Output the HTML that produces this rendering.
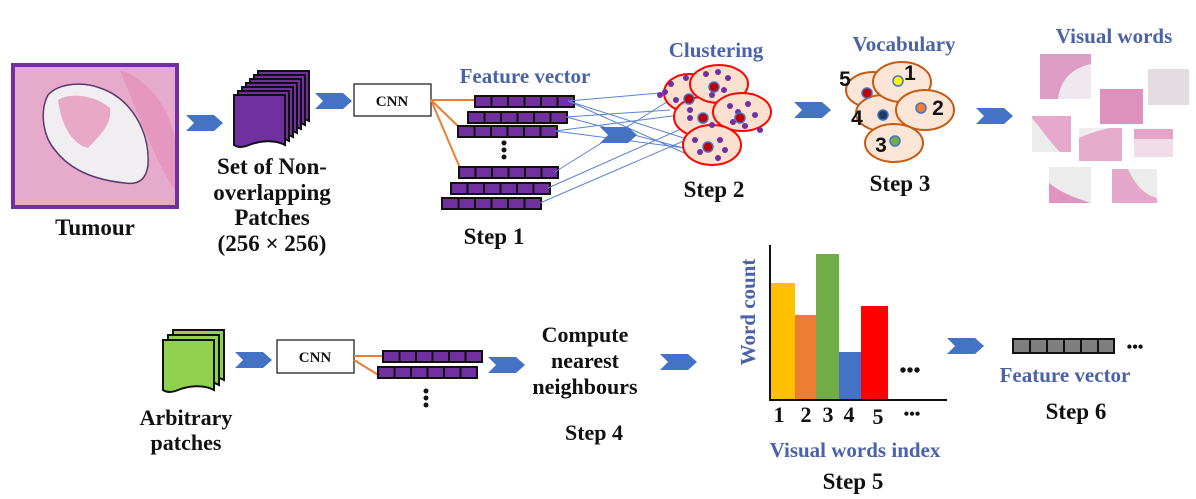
<!DOCTYPE html>
<html><head><meta charset="utf-8"><style>
html,body{margin:0;padding:0;background:#fff}
svg{display:block}
.t{font-family:"Liberation Serif",serif;font-weight:bold;fill:#111}
.b{font-family:"Liberation Serif",serif;font-weight:bold;fill:#4a62a8}
.n{font-family:"Liberation Sans",sans-serif;font-weight:bold;fill:#111}
</style></head><body>
<svg width="1196" height="499" viewBox="0 0 1196 499" xmlns="http://www.w3.org/2000/svg">
<defs>
<g id="bar"><rect width="101" height="13" fill="#111"/>
<rect x="2" y="2" width="14.5" height="9" fill="#7030a0"/><rect x="18.5" y="2" width="14.5" height="9" fill="#7030a0"/><rect x="35" y="2" width="14.5" height="9" fill="#7030a0"/><rect x="51.5" y="2" width="14.5" height="9" fill="#7030a0"/><rect x="68" y="2" width="14.5" height="9" fill="#7030a0"/><rect x="84.5" y="2" width="14.5" height="9" fill="#7030a0"/></g>
<path id="chev" d="M0,0 H28 L37,8 L28,16 H0 L8,8 Z" fill="#4472c4"/>
<path id="pg" d="M0,0 H51 V50 C40,44 25,46 15,50 C8,53 3,52 0,50 Z"/>
</defs>

<!-- Tumour -->
<rect x="13" y="65" width="164" height="142" fill="#e6aacb" stroke="#7030a0" stroke-width="4"/>
<path d="M120,70 C150,80 170,110 175,140 L175,190 C160,170 140,120 120,70Z" fill="#e58fb8" opacity="0.7"/>
<path d="M48,95 C60,82 85,82 100,88 C130,98 150,130 148,165 C146,180 138,185 125,183 C95,180 70,170 55,150 C42,135 40,110 48,95Z" fill="#f1eef2" stroke="#5a3a6a" stroke-width="1.5"/>
<path d="M58,100 C70,92 95,95 110,108 C112,125 100,135 88,148 C75,145 62,130 58,100Z" fill="#e9a9c6"/>
<text class="t" x="95" y="235" font-size="23" text-anchor="middle">Tumour</text>

<use href="#chev" x="186" y="115"/>

<!-- purple stack -->
<g fill="#7030a0" stroke="#111" stroke-width="2">
<use href="#pg" x="258" y="71"/><use href="#pg" x="254" y="75"/><use href="#pg" x="250" y="79"/><use href="#pg" x="246" y="83"/><use href="#pg" x="242" y="87"/><use href="#pg" x="238" y="91"/><use href="#pg" x="234" y="95"/>
</g>
<g class="t" font-size="23" text-anchor="middle">
<text x="272" y="174">Set of Non-</text><text x="272" y="200">overlapping</text><text x="272" y="225">Patches</text><text x="272" y="251">(256 × 256)</text>
</g>

<use href="#chev" x="315" y="93"/>
<rect x="354" y="84" width="77" height="32" fill="#fff" stroke="#111" stroke-width="1.2"/>
<text class="t" x="392" y="106" font-size="15" text-anchor="middle">CNN</text>
<g stroke="#ed7d31" stroke-width="2"><line x1="431" y1="100" x2="475" y2="100"/><line x1="431" y1="100" x2="460" y2="128"/><line x1="431" y1="100" x2="460" y2="168"/></g>
<text class="b" x="525" y="83" font-size="21" text-anchor="middle">Feature vector</text>
<use href="#bar" x="474" y="95"/><use href="#bar" x="467" y="111"/><use href="#bar" x="457" y="125"/>
<use href="#bar" x="458" y="166"/><use href="#bar" x="450" y="182"/><use href="#bar" x="441" y="197"/>
<g fill="#111"><circle cx="504" cy="143" r="2.5"/><circle cx="504" cy="150" r="2.5"/><circle cx="504" cy="157" r="2.5"/></g>
<text class="t" x="494" y="244" font-size="23" text-anchor="middle">Step 1</text>

<!-- blue lines -->
<g stroke="#5b83d0" stroke-width="1">
<line x1="568" y1="101" x2="660" y2="93"/><line x1="568" y1="101" x2="690" y2="140"/><line x1="568" y1="101" x2="700" y2="160"/>
<line x1="566" y1="117" x2="670" y2="110"/><line x1="566" y1="117" x2="710" y2="155"/>
<line x1="555" y1="131" x2="680" y2="115"/><line x1="555" y1="131" x2="700" y2="150"/>
<line x1="555" y1="172" x2="670" y2="100"/><line x1="548" y1="188" x2="690" y2="125"/><line x1="540" y1="203" x2="686" y2="140"/>
</g>
<use href="#chev" x="600" y="127"/>

<!-- clusters -->
<g fill="#fbe0d0" stroke="#ff0000" stroke-width="2">
<ellipse cx="689" cy="93" rx="25" ry="19"/><ellipse cx="703" cy="117" rx="29" ry="20"/><ellipse cx="719" cy="84" rx="29" ry="19"/><ellipse cx="742" cy="112" rx="29" ry="19"/><ellipse cx="712" cy="145" rx="29" ry="20"/>
</g>
<g fill="#7030a0">
<circle cx="665" cy="92" r="3"/><circle cx="671" cy="84" r="3"/><circle cx="686" cy="78" r="3"/><circle cx="676" cy="100" r="3"/><circle cx="660" cy="95" r="3"/><circle cx="706" cy="74" r="3"/><circle cx="718" cy="72" r="3"/><circle cx="728" cy="78" r="3"/><circle cx="712" cy="95" r="3"/><circle cx="724" cy="90" r="3"/><circle cx="730" cy="106" r="3"/><circle cx="748" cy="104" r="3"/><circle cx="755" cy="115" r="3"/><circle cx="733" cy="122" r="3"/><circle cx="745" cy="126" r="3"/><circle cx="760" cy="130" r="3"/><circle cx="690" cy="118" r="3"/><circle cx="712" cy="125" r="3"/><circle cx="695" cy="140" r="3"/><circle cx="720" cy="140" r="3"/><circle cx="725" cy="150" r="3"/><circle cx="700" cy="152" r="3"/><circle cx="718" cy="158" r="3"/><circle cx="690" cy="110" r="3"/><circle cx="738" cy="112" r="3"/>
</g>
<g fill="#c00000" stroke="#4472c4" stroke-width="1.5">
<circle cx="714" cy="87" r="5"/><circle cx="689" cy="99" r="5"/><circle cx="703" cy="118" r="5"/><circle cx="740" cy="118" r="5"/><circle cx="708" cy="147" r="5"/>
</g>
<text class="b" x="716" y="57" font-size="21" text-anchor="middle">Clustering</text>
<text class="t" x="714" y="197" font-size="23" text-anchor="middle">Step 2</text>

<use href="#chev" x="794" y="102"/>

<!-- vocabulary -->
<g fill="#fbe5d6" stroke="#c55a11" stroke-width="2">
<ellipse cx="873" cy="90" rx="27" ry="18"/><ellipse cx="883" cy="113" rx="27" ry="18"/><ellipse cx="902" cy="82" rx="29" ry="20"/><ellipse cx="925" cy="110" rx="29" ry="20"/><ellipse cx="894" cy="143" rx="29" ry="19"/>
</g>
<g stroke="#4472c4" stroke-width="1.5">
<circle cx="898" cy="81" r="5" fill="#ffff00"/><circle cx="867" cy="93" r="5" fill="#c00000"/><circle cx="921" cy="108" r="5" fill="#ed7d31"/><circle cx="883" cy="115" r="5" fill="#1f3864"/><circle cx="895" cy="141" r="5" fill="#70ad47"/>
</g>
<g class="n" font-size="21" text-anchor="middle">
<text x="845" y="86">5</text><text x="910" y="80">1</text><text x="938" y="115">2</text><text x="857" y="125">4</text><text x="881" y="152">3</text>
</g>
<text class="b" x="904" y="51" font-size="21" text-anchor="middle">Vocabulary</text>
<text class="t" x="900" y="191" font-size="23" text-anchor="middle">Step 3</text>

<use href="#chev" x="976" y="108"/>
<text class="b" x="1114" y="43" font-size="21" text-anchor="middle">Visual words</text>
<rect x="1040" y="54" width="51" height="45" fill="#dc9cc4"/><path d="M1058,99 C1060,80 1072,68 1091,64 V99Z" fill="#efe8ee" />
<rect x="1148" y="69" width="41" height="36" fill="#e3dde2"/>
<rect x="1100" y="89" width="43" height="35" fill="#dd92bd"/>
<rect x="1032" y="116" width="39" height="36" fill="#e6a8cb"/><path d="M1032,118 C1042,130 1050,142 1060,152 H1032Z" fill="#ececec"/>
<rect x="1079" y="128" width="43" height="33" fill="#e6aacb"/><path d="M1079,138 C1090,133 1100,130 1110,128 H1079Z" fill="#eee"/>
<rect x="1134" y="129" width="39" height="28" fill="#f0dde8"/><rect x="1134" y="129" width="39" height="10" fill="#e8a4c8"/>
<rect x="1049" y="167" width="42" height="36" fill="#ececec"/><path d="M1049,183 C1060,192 1075,198 1091,203 H1049Z" fill="#e095c0"/>
<rect x="1112" y="169" width="45" height="34" fill="#e5a8ca"/><path d="M1128,169 C1135,185 1145,195 1157,198 V169Z" fill="#ececec"/>

<!-- bottom row -->
<g fill="#92d050" stroke="#111" stroke-width="2">
<use href="#pg" x="173" y="330"/><use href="#pg" x="168" y="335"/><use href="#pg" x="163" y="340"/>
</g>
<text class="t" x="186" y="425" font-size="22" text-anchor="middle">Arbitrary</text>
<text class="t" x="186" y="450" font-size="22" text-anchor="middle">patches</text>
<use href="#chev" x="235" y="352"/>
<rect x="277" y="340" width="77" height="33" fill="#fff" stroke="#111" stroke-width="1.2"/>
<text class="t" x="315" y="362" font-size="15" text-anchor="middle">CNN</text>
<g stroke="#ed7d31" stroke-width="2"><line x1="354" y1="356" x2="383" y2="356"/><line x1="354" y1="360" x2="380" y2="376"/></g>
<use href="#bar" x="382" y="350"/><use href="#bar" x="377" y="366"/>
<g fill="#111"><circle cx="426" cy="391" r="2.5"/><circle cx="426" cy="398" r="2.5"/><circle cx="426" cy="405" r="2.5"/></g>
<use href="#chev" x="488" y="357"/>
<g class="t" font-size="22" text-anchor="middle">
<text x="585" y="342">Compute</text><text x="585" y="368">nearest</text><text x="585" y="394">neighbours</text><text x="594" y="440">Step 4</text>
</g>
<use href="#chev" x="660" y="354"/>

<!-- histogram -->
<rect x="771" y="283" width="24" height="117" fill="#ffc000"/>
<rect x="795" y="315" width="21" height="85" fill="#ed7d31"/>
<rect x="816" y="254" width="23" height="146" fill="#70ad47"/>
<rect x="839" y="352" width="22" height="48" fill="#4472c4"/>
<rect x="861" y="306" width="27" height="94" fill="#ff0000"/>
<g stroke="#111" stroke-width="2"><line x1="770" y1="245" x2="770" y2="401"/><line x1="769" y1="400" x2="947" y2="400"/></g>
<text class="t" x="910" y="377" font-size="20" text-anchor="middle">•••</text>
<g class="t" font-size="22" text-anchor="middle">
<text x="779" y="422">1</text><text x="806" y="422">2</text><text x="828" y="422">3</text><text x="849" y="422">4</text><text x="878" y="424">5</text><text x="912" y="419" font-size="16">•••</text>
</g>
<text class="b" x="0" y="0" font-size="21" text-anchor="middle" transform="translate(755,312) rotate(-90)">Word count</text>
<text class="b" x="855" y="457" font-size="21" text-anchor="middle">Visual words index</text>
<text class="t" x="853" y="489" font-size="23" text-anchor="middle">Step 5</text>

<use href="#chev" x="947" y="338"/>
<rect x="1012" y="338" width="103" height="16" fill="#111"/>
<g fill="#7f7f7f"><rect x="1014" y="340" width="15" height="12"/><rect x="1031" y="340" width="15" height="12"/><rect x="1048" y="340" width="15" height="12"/><rect x="1065" y="340" width="15" height="12"/><rect x="1082" y="340" width="15" height="12"/><rect x="1099" y="340" width="14" height="12"/></g>
<text class="t" x="1135" y="352" font-size="16" text-anchor="middle">•••</text>
<text class="b" x="1065" y="382" font-size="21" text-anchor="middle">Feature vector</text>
<text class="t" x="1076" y="419" font-size="23" text-anchor="middle">Step 6</text>
</svg>
</body></html>
